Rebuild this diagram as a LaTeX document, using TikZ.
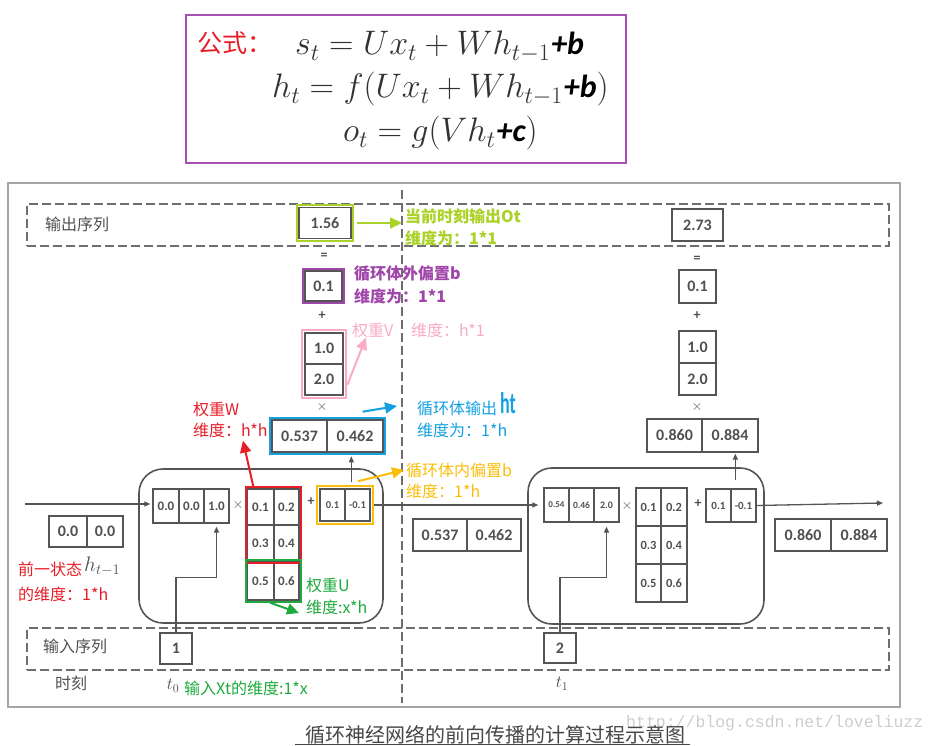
\RequirePackage{fix-cm}
\documentclass[tikz,border=0pt]{standalone}
\usepackage[no-math]{fontspec}
\setmainfont{Carlito}
\newfontfamily\cjk{Noto Sans CJK SC}
\newfontfamily\wmfont{Liberation Mono}
\usetikzlibrary{arrows.meta,fit,calc}
\newcommand\fsz[1]{\fontsize{#1}{#1}\selectfont}
\newcommand\plusb[1]{{\fsz{32}\bfseries\itshape\kern1pt #1}}
\definecolor{gy}{RGB}{170,210,40}
\definecolor{pu}{RGB}{160,70,170}
\definecolor{pk}{RGB}{248,170,200}
\definecolor{bl}{RGB}{20,160,225}
\definecolor{rd}{RGB}{230,30,40}
\definecolor{ye}{RGB}{250,190,10}
\definecolor{gn}{RGB}{30,170,60}
\definecolor{boxc}{RGB}{85,85,85}
\definecolor{txtc}{RGB}{80,80,80}
\definecolor{framec}{RGB}{165,165,165}
\definecolor{dashc}{RGB}{110,110,110}
\definecolor{fpurple}{RGB}{170,80,180}
\definecolor{wmc}{RGB}{205,205,205}
\definecolor{capc}{RGB}{70,70,70}
\definecolor{fmc}{RGB}{50,50,50}
\tikzset{
  numbox/.style={draw=boxc, line width=1.3pt, inner sep=0pt, text=txtc, font=\fsz{16}\bfseries},
  opsym/.style={text=txtc, font=\fsz{14}\bfseries, inner sep=0pt},
  clabel/.style={anchor=west, inner sep=0pt, font=\cjk\fsz{16}},
  glabel/.style={anchor=west, inner sep=0pt, font=\cjk\fsz{16}, text=txtc},
  hilite/.style={draw, line width=2.2pt, inner sep=1.5pt},
  grayarrow/.style={draw=boxc, line width=1.3pt, -{Triangle[length=6pt,width=5pt]}},
  colarrow/.style={line width=2pt, -{Triangle[length=12pt,width=11pt]}},
  dashbox/.style={draw=dashc, line width=1.5pt, dash pattern=on 9pt off 4pt, inner sep=0pt},
  formula/.style={anchor=base west, inner sep=0pt, text=fmc, font=\fsz{34}}
}
\begin{document}
\begin{tikzpicture}[x=1pt,y=-1pt]
\useasboundingbox (0,0) rectangle (938,746);
% ---------- formula ----------
\node (fbox) [draw=fpurple, line width=2pt, minimum width=440pt, minimum height=148pt, inner sep=0pt] at (406,89) {};
\node (gs) [anchor=west, text=rd, font=\cjk\fsz{25}, inner sep=0pt] at (197,43) {公式：};
\node (f1) [formula] at (295,55) {$s_t = Ux_t + Wh_{t-1}$\plusb{\textcolor{black}{+b}}};
\node (f2) [formula] at (272,98) {$h_t = f(Ux_t + Wh_{t-1}$\plusb{\textcolor{black}{+b}}$)$};
\node (f3) [formula] at (343,142) {$o_t = g(Vh_t$\plusb{\textcolor{black}{+c}}$)$};
% ---------- frame ----------
\node (frame) [draw=framec, line width=1.5pt, minimum width=892pt, minimum height=524pt, inner sep=0pt] at (454,445) {};
\node (outSeq) [dashbox, minimum width=862pt, minimum height=42pt] at (458,225) {};
\node (inSeq) [dashbox, minimum width=862pt, minimum height=42pt] at (458,649) {};
\coordinate (vtop) at (402,190);
\coordinate (vbot) at (402,703);
\draw[draw=dashc, line width=1.5pt, dash pattern=on 9pt off 4pt] (vtop) -- (vbot);
\node (lOut) [glabel] at (45,224) {输出序列};
\node (lIn) [glabel] at (43,646) {输入序列};
\node (lTime) [glabel] at (55,683) {时刻};
\node (t0) [text=txtc, font=\fsz{17}, inner sep=0pt] at (173,686) {$t_0$};
\node (t1) [text=txtc, font=\fsz{17}, inner sep=0pt] at (562,684) {$t_1$};
% ---------- left column ----------
\node (o1) [numbox, minimum width=52pt, minimum height=31pt] at (325,223) {1.56};
\node (o1hl) [hilite, draw=gy, fit=(o1)] {};
\node (eqL) [opsym] at (324,256) {=};
\node (c1) [numbox, minimum width=37pt, minimum height=30pt] at (323.5,286) {0.1};
\node (c1hl) [hilite, draw=pu, fit=(c1)] {};
\node (plL) [opsym] at (322,316) {+};
\node (v1a) [numbox, minimum width=38pt, minimum height=31pt] at (324,348.5) {1.0};
\node (v1b) [numbox, minimum width=38pt, minimum height=31pt] at (324,379.5) {2.0};
\node (vhl) [hilite, draw=pk, inner sep=2.5pt, fit=(v1a)(v1b)] {};
\node (tmL) [opsym] at (322,407) {$\times$};
\node (h1a) [numbox, minimum width=55pt, minimum height=32pt] at (299.5,436) {0.537};
\node (h1b) [numbox, minimum width=56pt, minimum height=32pt] at (355,436) {0.462};
\node (hhl) [hilite, draw=bl, fit=(h1a)(h1b)] {};
% ---------- right column ----------
\node (o2) [numbox, minimum width=51pt, minimum height=32pt] at (697.5,225) {2.73};
\node (eqR) [opsym] at (697,259) {=};
\node (c2) [numbox, minimum width=37pt, minimum height=33pt] at (697.5,286.5) {0.1};
\node (plR) [opsym] at (697,316) {+};
\node (v2a) [numbox, minimum width=37pt, minimum height=32pt] at (697.5,347) {1.0};
\node (v2b) [numbox, minimum width=37pt, minimum height=32pt] at (697.5,379) {2.0};
\node (tmR) [opsym] at (697,407) {$\times$};
\node (h2a) [numbox, minimum width=55pt, minimum height=33pt] at (674.5,435.5) {0.860};
\node (h2b) [numbox, minimum width=56pt, minimum height=33pt] at (730,435.5) {0.884};
% ---------- left cell ----------
\node (cellL) [draw=boxc, line width=1.6pt, rounded corners=24pt, minimum width=244pt, minimum height=154pt, inner sep=0pt] at (261,546) {};
\node (x1a) [numbox, font=\fsz{13}\bfseries, minimum width=26pt, minimum height=34pt] at (166,506) {0.0};
\node (x1b) [numbox, font=\fsz{13}\bfseries, minimum width=25pt, minimum height=34pt] at (191.5,506) {0.0};
\node (x1c) [numbox, font=\fsz{13}\bfseries, minimum width=25pt, minimum height=34pt] at (216.5,506) {1.0};
\node (tmL2) [opsym] at (238,505) {$\times$};
\node (w11) [numbox, font=\fsz{13}\bfseries, minimum width=26pt, minimum height=36pt] at (260.5,507) {0.1};
\node (w12) [numbox, font=\fsz{13}\bfseries, minimum width=25pt, minimum height=36pt] at (286.5,507) {0.2};
\node (w21) [numbox, font=\fsz{13}\bfseries, minimum width=26pt, minimum height=36pt] at (260.5,543) {0.3};
\node (w22) [numbox, font=\fsz{13}\bfseries, minimum width=25pt, minimum height=36pt] at (286.5,543) {0.4};
\node (w31) [numbox, font=\fsz{13}\bfseries, minimum width=26pt, minimum height=38pt] at (260.5,581) {0.5};
\node (w32) [numbox, font=\fsz{13}\bfseries, minimum width=25pt, minimum height=38pt] at (286.5,581) {0.6};
\node (whl) [hilite, draw=rd, inner sep=1pt, fit=(w11)(w22)] {};
\node (uhl) [hilite, draw=gn, inner sep=1pt, fit=(w31)(w32)] {};
\node (plL2) [opsym] at (311,502) {+};
\node (bL1) [numbox, font=\fsz{10.5}\bfseries, minimum width=25pt, minimum height=32pt] at (332.5,505) {0.1};
\node (bL2) [numbox, font=\fsz{10.5}\bfseries, minimum width=25pt, minimum height=32pt] at (357.5,505) {-0.1};
\node (bhl) [hilite, draw=ye, inner sep=2pt, fit=(bL1)(bL2)] {};
\node (sL1) [numbox, minimum width=38pt, minimum height=31pt] at (68,531.5) {0.0};
\node (sL2) [numbox, minimum width=36pt, minimum height=31pt] at (105,531.5) {0.0};
\node (in1) [numbox, minimum width=32pt, minimum height=31pt] at (176,648.5) {1};
% ---------- right cell ----------
\node (cellR) [draw=boxc, line width=1.6pt, rounded corners=24pt, minimum width=236pt, minimum height=156pt, inner sep=0pt] at (646,546) {};
\node (x2a) [numbox, font=\fsz{9}\bfseries, minimum width=25pt, minimum height=34pt] at (556.5,505) {0.54};
\node (x2b) [numbox, font=\fsz{9.5}\bfseries, minimum width=25pt, minimum height=34pt] at (581.5,505) {0.46};
\node (x2c) [numbox, font=\fsz{10}\bfseries, minimum width=25pt, minimum height=34pt] at (606.5,505) {2.0};
\node (tmR2) [opsym] at (627,506) {$\times$};
\node (u11) [numbox, font=\fsz{12.5}\bfseries, minimum width=25pt, minimum height=38pt] at (648.5,507) {0.1};
\node (u12) [numbox, font=\fsz{12.5}\bfseries, minimum width=26pt, minimum height=38pt] at (674,507) {0.2};
\node (u21) [numbox, font=\fsz{12.5}\bfseries, minimum width=25pt, minimum height=38pt] at (648.5,545) {0.3};
\node (u22) [numbox, font=\fsz{12.5}\bfseries, minimum width=26pt, minimum height=38pt] at (674,545) {0.4};
\node (u31) [numbox, font=\fsz{12.5}\bfseries, minimum width=25pt, minimum height=38pt] at (648.5,583) {0.5};
\node (u32) [numbox, font=\fsz{12.5}\bfseries, minimum width=26pt, minimum height=38pt] at (674,583) {0.6};
\node (plR2) [opsym] at (698,504) {+};
\node (bR1) [numbox, font=\fsz{11}\bfseries, minimum width=25pt, minimum height=33pt] at (718.5,505.5) {0.1};
\node (bR2) [numbox, font=\fsz{11}\bfseries, minimum width=25pt, minimum height=33pt] at (743.5,505.5) {-0.1};
\node (sM1) [numbox, minimum width=54pt, minimum height=32pt] at (440,535) {0.537};
\node (sM2) [numbox, minimum width=54pt, minimum height=32pt] at (494,535) {0.462};
\node (sR1) [numbox, minimum width=56pt, minimum height=32pt] at (803,535) {0.860};
\node (sR2) [numbox, minimum width=56pt, minimum height=32pt] at (859,535) {0.884};
\node (in2) [numbox, minimum width=32pt, minimum height=30pt] at (560,648) {2};
% ---------- gray connectors ----------
\coordinate (inL) at (25,504);
\coordinate (outR) at (883,503);
\draw[grayarrow, shorten >=2pt] (inL) -- (x1a.west |- inL);
\draw[grayarrow, shorten >=5pt] (bhl.east) -- (x2a.west);
\draw[grayarrow] (bR2.east) -- (outR);
\coordinate (upL) at ([xshift=7pt]bL2.north west);
\draw[grayarrow, shorten <=6pt, shorten >=1pt] (upL) -- (upL |- hhl.south);
\coordinate (upR) at ([xshift=5pt]bR2.north west);
\draw[grayarrow, shorten <=8pt, shorten >=1pt] (upR) -- (upR |- h2a.south);
\draw[grayarrow, shorten >=3pt] (in1.north) -- ++(0,-55) -| (x1c.south);
\draw[grayarrow, shorten >=4pt] (in2.north) -- ++(0,-55) -| (x2c.south);
% ---------- colored labels ----------
\node (lblOt1) [clabel, text=gy, font=\cjk\fsz{16}\bfseries] at (405,216) {当前时刻输出Ot};
\node (lblOt2) [clabel, text=gy, font=\cjk\fsz{16}\bfseries] at (405,238) {维度为：1*1};
\node (lblC1) [clabel, text=pu, font=\cjk\fsz{16}\bfseries] at (354,274) {循环体外偏置b};
\node (lblC2) [clabel, text=pu, font=\cjk\fsz{16}\bfseries] at (354,296) {维度为：1*1};
\node (lblV) [clabel, text=pk] at (352,330) {权重V};
\node (lblV2) [clabel, text=pk] at (411,330) {维度：h*1};
\node (lblH1) [clabel, text=bl] at (417,408) {循环体输出};
\node (lblHt) [anchor=west, inner sep=0pt, text=bl, font=\fsz{30}\bfseries] at (500,403) {\scalebox{0.6}[1]{ht}};
\node (lblH2) [clabel, text=bl] at (417,430) {维度为：1*h};
\node (lblB1) [clabel, text=ye] at (406,470) {循环体内偏置b};
\node (lblB2) [clabel, text=ye] at (406,491) {维度：1*h};
\node (lblW1) [clabel, text=rd] at (193,409) {权重W};
\node (lblW2) [clabel, text=rd] at (193,430) {维度：h*h};
\node (lblS1) [clabel, text=rd] at (18,569) {前一状态};
\node (lblSh) [anchor=west, inner sep=0pt, text=txtc, font=\fsz{21}] at (84,566) {$h_{t-1}$};
\node (lblS2) [clabel, text=rd] at (18,594) {的维度：1*h};
\node (lblU1) [clabel, text=gn] at (306,585) {权重U};
\node (lblU2) [clabel, text=gn] at (306,607) {维度:x*h};
\node (lblX) [clabel, text=gn] at (184,688) {输入Xt的维度:1*x};
% ---------- colored arrows ----------
\draw[colarrow, gy, shorten <=3pt, shorten >=3pt] (o1hl.east) -- (o1hl.east -| lblOt1.west);
\draw[colarrow, pk] ([yshift=-21pt]vhl.east) -- ([xshift=14pt]lblV.south west);
\draw[colarrow, bl] ([xshift=35pt,yshift=5pt]hhl.north) -- ([xshift=-20pt,yshift=2pt]lblH1.west);
\draw[colarrow, ye] ([xshift=13pt,yshift=4pt]bhl.north) -- ([xshift=-2pt]lblB1.west);
\draw[colarrow, rd] ([xshift=-20pt]whl.north) -- ([xshift=50pt,yshift=-3pt]lblW2.south west);
\draw[colarrow, gn] ([xshift=-3pt]uhl.south) -- ([xshift=-7pt,yshift=-6pt]lblU2.west);
% ---------- caption ----------
\node (wm) [anchor=west, inner sep=0pt, text=wmc, font=\wmfont\fsz{16.5}] at (626,723) {http://blog.csdn.net/loveliuzz};
\node (cap) [anchor=west, inner sep=0pt, text=capc, font=\cjk\fsz{20}] at (305,735) {循环神经网络的前向传播的计算过程示意图};
\draw[capc, line width=1.3pt] ([xshift=-10pt]cap.south west |- 0,744.5) -- ([xshift=5pt]cap.south east |- 0,744.5);
\end{tikzpicture}
\end{document}
